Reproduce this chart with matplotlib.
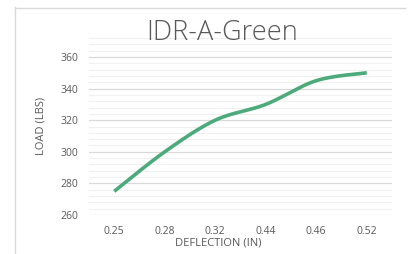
import numpy as np
import matplotlib
matplotlib.use("Agg")
import matplotlib.pyplot as plt
from matplotlib.lines import Line2D

categories = ["0.25", "0.28", "0.32", "0.44", "0.46", "0.52"]
load = [275, 300, 320, 330, 345, 350]

W, H = 414, 254
fig = plt.figure(figsize=(W / 100, H / 100), dpi=100)
plt.rcParams['font.family'] = ['Open Sans', 'DejaVu Sans']

def fx(px):
    return px / W

def fy(py):
    return 1 - py / H

left, right, top, bottom = 89, 392, 38, 215
ax = fig.add_axes([fx(left), fy(bottom), fx(right) - fx(left), fy(top) - fy(bottom)])

# Excel-style smoothed line (Bezier with Catmull-Rom control points)
xi = np.arange(len(categories), dtype=float)
yi = np.array(load, dtype=float)
P = np.column_stack([xi, yi])
Pext = np.vstack([P[0], P, P[-1]])
curve = []
t = np.linspace(0, 1, 40)
for i in range(len(P) - 1):
    p0, p3 = P[i], P[i + 1]
    c1 = p0 + (Pext[i + 2] - Pext[i]) / 6
    c2 = p3 - (Pext[i + 3] - Pext[i + 1]) / 6
    seg = ((1 - t) ** 3)[:, None] * p0 + (3 * (1 - t) ** 2 * t)[:, None] * c1 \
        + (3 * (1 - t) * t ** 2)[:, None] * c2 + (t ** 3)[:, None] * p3
    curve.append(seg)
curve = np.vstack(curve)
ax.plot(curve[:, 0], curve[:, 1], color="#4caa7b", lw=2.6, solid_capstyle="butt", zorder=3)

ax.set_xlim(-0.5, len(categories) - 0.5)
ax.set_ylim(260, 372)
ax.set_xticks(xi)
ax.set_xticklabels(categories)
ax.set_yticks(np.arange(260, 361, 20))
ax.set_yticks(np.arange(260, 373, 4), minor=True)
ax.grid(True, which="minor", axis="y", color="#f0f0f0", lw=0.8, zorder=0)
ax.grid(True, which="major", axis="y", color="#d9d9d9", lw=0.9, zorder=1)
ax.tick_params(axis="both", which="both", length=0, colors="#595959", labelsize=7.5)
ax.tick_params(axis="y", pad=8)
ax.tick_params(axis="x", pad=8)
for s in ax.spines.values():
    s.set_visible(False)
ax.set_facecolor("none")

fig.text(fx(222), fy(33), "IDR-A-Green", ha="center", va="center", fontsize=19.5,
         fontweight="light", color="#595959")
fig.text(fx(218), fy(243), "DEFLECTION (IN)", ha="center", va="center", fontsize=8, color="#595959")
fig.text(fx(41), fy(126), "LOAD (LBS)", ha="center", va="center", rotation=90, fontsize=8, color="#595959")

fig.add_artist(Line2D([fx(15.5), fx(15.5)], [fy(7), 0], color="#d9d9d9", lw=1, transform=fig.transFigure))
fig.add_artist(Line2D([fx(15), fx(405)], [fy(7.5), fy(7.5)], color="#d9d9d9", lw=1, transform=fig.transFigure))

fig.savefig("out.png", dpi=100)
